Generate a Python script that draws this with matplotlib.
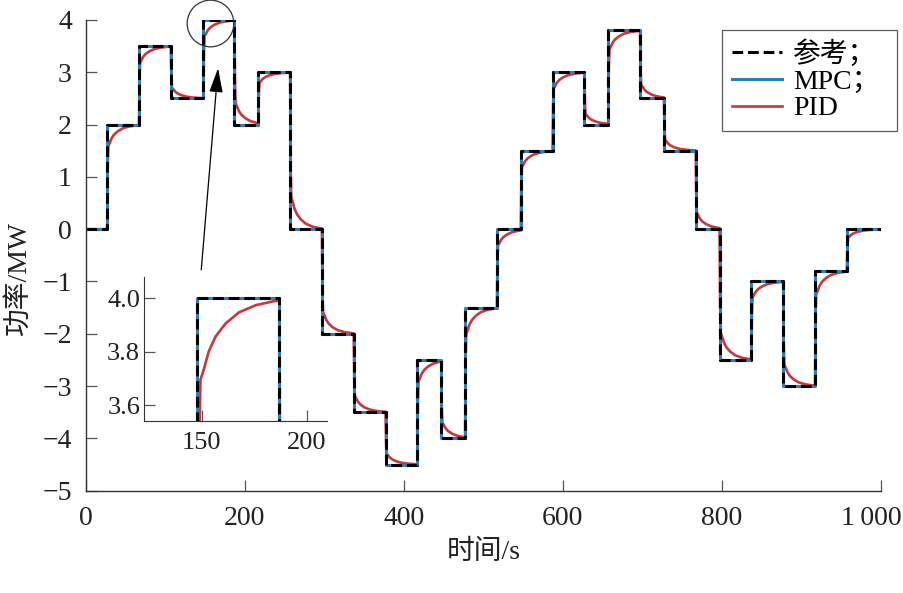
import numpy as np
import matplotlib.pyplot as plt
from matplotlib.transforms import ScaledTranslation

plt.rcParams['font.family'] = ['Liberation Serif', 'Noto Sans CJK SC']

# reference steps: switching times (s) and power levels (MW)
step_t = [0, 27, 67, 107, 148, 187, 217, 257, 297, 337, 377, 417, 447, 477,
          517, 547, 587, 627, 657, 697, 727, 767, 797, 837, 877, 917, 957, 1000]
levels = [0, 2, 3.5, 2.5, 4, 2, 3, 0, -2, -3.5, -4.5, -2.5, -4, -1.5,
          0, 1.5, 3, 2, 3.8, 2.5, 1.5, 0, -2.5, -1, -3, -0.8, 0]

# PID step response: time after step (s), fraction of step done
pid_dt = [0, 0.7, 1.45, 3.0, 5.4, 8.6, 13.4, 19.8, 27.8, 36.5, 40]
pid_frac = [0, 0.6, 0.796, 0.821, 0.867, 0.904, 0.937, 0.965, 0.983, 0.993, 0.995]

xticks = [0, 200, 400, 600, 800, 1000]
xtick_labels = ['0', '200', '400', '600', '800', '1\u2009000']
yticks = [-5, -4, -3, -2, -1, 0, 1, 2, 3, 4]

c_mpc = '#2e7ebc'
c_pid = '#c8373a'

# reference / MPC as step lines
ref_t = step_t
ref_y = levels + [levels[-1]]

# PID: apply read response shape to every step
pid_t, pid_y = [], []
p = levels[0]
for i in range(len(levels)):
    t0, t1 = step_t[i], step_t[i + 1]
    dur = t1 - t0
    start = p
    for dt, f in zip(pid_dt, pid_frac):
        if dt >= dur:
            break
        pid_t.append(t0 + dt)
        pid_y.append(start + (levels[i] - start) * f)
    f_end = np.interp(dur, pid_dt, pid_frac)
    p = start + (levels[i] - start) * f_end
    pid_t.append(t1)
    pid_y.append(p)


def draw(ax, lw=2.2):
    ax.plot(pid_t, pid_y, color=c_pid, lw=1.9, label='PID', zorder=2)
    ax.step(ref_t, ref_y, where='post', color=c_mpc, lw=lw, label='MPC；', zorder=3)
    ax.step(ref_t, ref_y, where='post', color='black', lw=lw, ls=(0, (3.5, 1.6)),
            label='参考；', zorder=4)


fig = plt.figure(figsize=(9.04, 5.93), dpi=100)
ax = fig.add_axes([0.0948, 0.1725, 0.8798, 0.7938])
draw(ax)
ax.set_xlim(0, 1000)
ax.set_ylim(-5, 4)
ax.set_xticks(xticks)
ax.set_xticklabels(xtick_labels)
ax.set_yticks(yticks)
for s in ['top', 'right']:
    ax.spines[s].set_visible(False)
for s in ['left', 'bottom']:
    ax.spines[s].set_color('#333333')
    ax.spines[s].set_linewidth(1.0)
ax.tick_params(direction='in', length=8, width=0.9, color='#555555',
               labelsize=20, labelcolor='#222222')
ax.tick_params(axis='x', pad=11)
ax.tick_params(axis='y', pad=10)
# last label sits a bit left of its tick in the original
lab = ax.get_xticklabels()[-1]
lab.set_transform(lab.get_transform() + ScaledTranslation(-0.1, 0, fig.dpi_scale_trans))
ax.set_xlabel('时间/s', fontsize=20, color='#222222', labelpad=6)
ax.set_ylabel('功率/MW', fontsize=20, color='#222222')
ax.yaxis.set_label_coords(-0.068, 0.452)

h, l = ax.get_legend_handles_labels()
order = [2, 1, 0]
leg = ax.legend([h[i] for i in order], [l[i] for i in order], fontsize=20,
                loc='upper left', bbox_to_anchor=(722 / 904, 1 - 130 / 593, 175 / 904, 100 / 593),
                bbox_transform=fig.transFigure, mode='expand', frameon=True, fancybox=False,
                edgecolor='#333333', handlelength=1.8, handletextpad=0.4,
                labelspacing=0.05, borderpad=0.36, borderaxespad=0)
leg.get_frame().set_linewidth(0.9)

# circle around the zoomed region and arrow to the inset
ax.plot([156.3], [3.935], marker='o', ms=33.6, mfc='none', mec='#333333',
        mew=0.9, zorder=5, clip_on=False)
ax.annotate('', xy=(166.7, 3.13), xytext=(145, -0.83),
            arrowprops=dict(arrowstyle='-|>,head_length=1.0,head_width=0.28',
                            mutation_scale=15, lw=0.9, color='black'))

# inset
ins = fig.add_axes([0.1596, 0.2900, 0.2024, 0.2428])
ins.patch.set_alpha(0)
draw(ins)
ins.set_xlim(122.7, 209.8)
ins.set_ylim(3.54, 4.08)
ins.set_xticks([150, 200])
ins.set_yticks([3.6, 3.8, 4.0])
ins.set_yticklabels(['3.6', '3.8', '4.0'])
for s in ['top', 'right']:
    ins.spines[s].set_visible(False)
for s in ['left', 'bottom']:
    ins.spines[s].set_color('#333333')
ins.tick_params(direction='in', length=8, width=0.9, color='#555555',
                labelsize=19, labelcolor='#222222')
ins.tick_params(axis='x', pad=8)
ins.tick_params(axis='y', pad=3)

fig.savefig('out.png', dpi=100)
